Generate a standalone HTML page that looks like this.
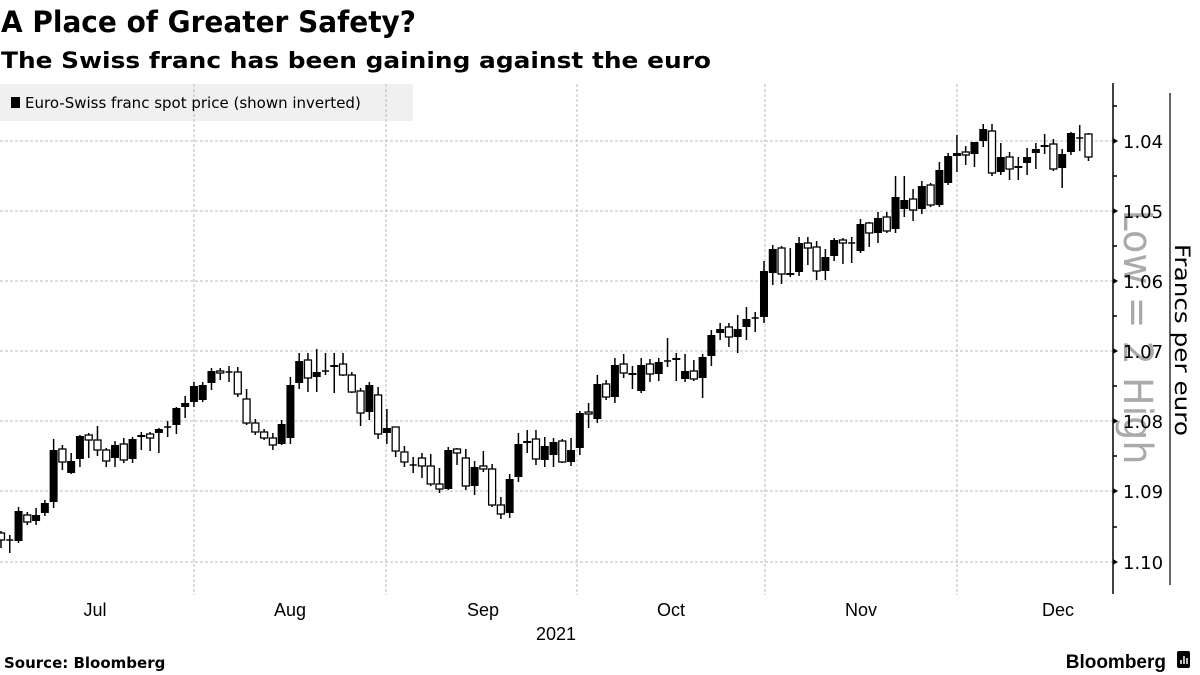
<!DOCTYPE html>
<html><head><meta charset="utf-8"><style>
html,body{margin:0;padding:0;background:#fff;width:1200px;height:675px;overflow:hidden}
svg{display:block}
</style></head><body>
<svg id="s" width="1200" height="675" xmlns="http://www.w3.org/2000/svg" font-family="DejaVu Sans, Liberation Sans, sans-serif">
<text x="1" y="32" font-size="29" font-weight="bold" fill="#000" textLength="415" lengthAdjust="spacingAndGlyphs">A Place of Greater Safety?</text>
<text x="1" y="68" font-size="22" font-weight="bold" fill="#000" textLength="710" lengthAdjust="spacingAndGlyphs">The Swiss franc has been gaining against the euro</text>
<rect x="0" y="84" width="413" height="37" fill="#f0f0f0"/>
<g stroke="#bbb" stroke-width="1" stroke-dasharray="3,2">
<line x1="0" y1="141" x2="1112" y2="141"/><line x1="0" y1="211" x2="1112" y2="211"/>
<line x1="0" y1="281" x2="1112" y2="281"/><line x1="0" y1="351" x2="1112" y2="351"/>
<line x1="0" y1="421" x2="1112" y2="421"/><line x1="0" y1="491" x2="1112" y2="491"/>
<line x1="0" y1="562" x2="1112" y2="562"/>
<line x1="194" y1="84" x2="194" y2="595"/><line x1="386" y1="84" x2="386" y2="595"/>
<line x1="577" y1="84" x2="577" y2="595"/><line x1="765" y1="84" x2="765" y2="595"/>
<line x1="957" y1="84" x2="957" y2="595"/>
</g>
<rect x="11" y="97" width="9" height="11" fill="#000"/>
<text x="25" y="108" font-size="15" fill="#000">Euro-Swiss franc spot price (shown inverted)</text>
<text transform="translate(1124,337) rotate(90)" text-anchor="middle" font-size="40" fill="#aaa" textLength="255" lengthAdjust="spacingAndGlyphs">Low = 2 High</text>
<g id="c"></g>
<line x1="1113" y1="83" x2="1113" y2="594" stroke="#000" stroke-width="1.5"/>
<g stroke="#000" stroke-width="1.5">
<line x1="1113" y1="106" x2="1117" y2="106"/><line x1="1113" y1="176" x2="1117" y2="176"/>
<line x1="1113" y1="246" x2="1117" y2="246"/><line x1="1113" y1="316" x2="1117" y2="316"/>
<line x1="1113" y1="386" x2="1117" y2="386"/><line x1="1113" y1="456" x2="1117" y2="456"/>
<line x1="1113" y1="527" x2="1117" y2="527"/>
</g>
<g fill="#000"><polygon points="1113,138 1118,141 1113,144"/><polygon points="1113,208 1118,211 1113,214"/><polygon points="1113,278 1118,281 1113,284"/><polygon points="1113,348 1118,351 1113,354"/><polygon points="1113,418 1118,421 1113,424"/><polygon points="1113,488 1118,491 1113,494"/><polygon points="1113,559 1118,562 1113,565"/></g>
<g font-size="18" fill="#000">
<text x="1123" y="148">1.04</text><text x="1123" y="218">1.05</text><text x="1123" y="288">1.06</text>
<text x="1123" y="358">1.07</text><text x="1123" y="428">1.08</text><text x="1123" y="498">1.09</text><text x="1123" y="569">1.10</text>
</g>
<line x1="1170" y1="93" x2="1170" y2="585" stroke="#000" stroke-width="1.2"/>
<text transform="translate(1175,340) rotate(90)" text-anchor="middle" font-size="21" fill="#000" textLength="192" lengthAdjust="spacingAndGlyphs">Francs per euro</text>
<g font-size="18" fill="#000" text-anchor="middle" font-family="Liberation Sans Narrow, Liberation Sans, sans-serif">
<text x="95" y="616">Jul</text><text x="290" y="616">Aug</text><text x="483" y="616">Sep</text>
<text x="671" y="616">Oct</text><text x="861" y="616">Nov</text><text x="1058" y="616">Dec</text>
<text x="556" y="640">2021</text>
</g>
<text x="4" y="668" font-size="15" font-weight="bold" fill="#000">Source: Bloomberg</text>
<text x="1166" y="668" text-anchor="end" font-size="19" font-weight="bold" fill="#000" font-family="Liberation Sans Narrow, Liberation Sans, sans-serif">Bloomberg</text>
<rect x="1177" y="651" width="13" height="17" rx="2" fill="#000"/>
<g stroke="#fff" stroke-width="1.5"><line x1="1181" y1="664" x2="1181" y2="660"/><line x1="1184" y1="664" x2="1184" y2="656"/><line x1="1187" y1="664" x2="1187" y2="658"/></g>
</svg>
<script>
var d=[[533,540,531,548,0],[540,540,535,553,2],[511,541,507,543,1],[515,522,512,525,0],[515,521,508,525,1],[503,513,500,516,1],[450,502,439,508,1],[449,462,445,470,0],[461,473,453,474,1],[436,459,435,467,1],[435,440,433,458,0],[440,450,426,456,0],[450,461,448,467,0],[445,458,441,467,1],[444,460,438,463,0],[439,459,437,463,1],[435,437,432,450,1],[434,438,432,451,0],[429,433,428,453,1],[427,427,421,437,2],[408,425,407,434,1],[403,407,396,418,1],[386,402,382,407,1],[385,400,382,402,1],[371,383,368,390,1],[371,373,368,380,0],[372,372,366,382,2],[372,394,367,397,0],[399,423,389,425,0],[423,432,419,435,0],[432,438,429,440,0],[438,445,433,450,0],[424,444,420,445,1],[385,438,377,444,1],[361,383,353,389,1],[360,378,353,392,0],[372,377,349,392,1],[371,371,353,375,2],[365,367,353,393,1],[364,375,353,376,0],[375,392,372,393,0],[391,413,388,426,0],[385,412,382,420,1],[395,434,387,439,0],[428,433,409,444,1],[427,451,427,457,0],[452,462,446,467,0],[465,465,457,473,2],[458,466,453,478,0],[466,484,454,486,0],[484,489,468,493,0],[450,489,447,490,1],[449,453,448,465,0],[458,486,449,490,0],[467,486,461,495,1],[466,469,451,472,0],[469,505,464,507,0],[505,514,497,519,0],[479,513,474,518,1],[444,477,433,482,1],[441,443,430,453,1],[439,459,430,465,0],[446,460,437,467,1],[442,455,438,467,1],[441,462,439,463,0],[450,462,438,466,1],[413,448,411,455,1],[412,414,403,428,0],[384,419,375,423,1],[384,397,380,400,0],[365,397,358,403,1],[364,373,354,378,0],[373,374,366,389,1],[365,391,358,393,1],[364,374,359,382,0],[362,374,358,381,1],[361,361,338,367,2],[358,359,353,381,1],[371,379,354,382,1],[371,379,360,381,0],[357,378,354,398,1],[335,356,330,366,1],[329,333,323,340,1],[327,337,323,347,0],[329,337,315,353,1],[319,327,307,340,1],[318,318,312,332,2],[271,317,261,323,1],[249,273,245,285,1],[248,274,246,284,0],[273,274,248,277,1],[243,272,237,276,1],[243,248,237,265,0],[247,271,241,280,0],[257,271,249,280,1],[240,256,238,261,1],[240,243,238,264,0],[243,243,237,263,2],[224,251,219,253,1],[223,233,222,247,0],[218,233,212,243,1],[217,231,212,233,0],[197,229,176,233,1],[200,209,176,217,1],[199,210,189,221,0],[186,209,181,214,1],[185,205,183,207,0],[170,205,162,207,1],[156,183,153,185,1],[153,156,135,172,1],[152,155,146,165,0],[142,154,142,167,1],[129,141,124,147,1],[131,173,124,176,0],[157,172,143,175,1],[157,169,152,180,0],[166,168,157,180,1],[157,163,148,175,1],[149,153,143,169,1],[145,147,134,154,1],[144,169,139,171,0],[154,168,149,188,1],[133,152,132,155,1],[138,138,125,151,2],[134,157,133,161,0]];
var s='',w=7;
for(var i=0;i<d.length;i++){var c=d[i],x=1+8.77*i;
s+='<line x1="'+x+'" y1="'+c[2]+'" x2="'+x+'" y2="'+c[3]+'" stroke="#000" stroke-width="1.5"/>';
if(c[4]==2){s+='<line x1="'+(x-w/2)+'" y1="'+c[0]+'" x2="'+(x+w/2)+'" y2="'+c[0]+'" stroke="#000" stroke-width="1.5"/>';}
else{var h=Math.max(c[1]-c[0],2);
if(c[4]==1)s+='<rect x="'+(x-w/2-0.5)+'" y="'+c[0]+'" width="'+(w+1)+'" height="'+h+'" fill="#000"/>';
else s+='<rect x="'+(x-w/2)+'" y="'+c[0]+'" width="'+w+'" height="'+h+'" fill="#fff" stroke="#000" stroke-width="1.3"/>';}}
document.getElementById('c').innerHTML=s;
</script>
</body></html>
